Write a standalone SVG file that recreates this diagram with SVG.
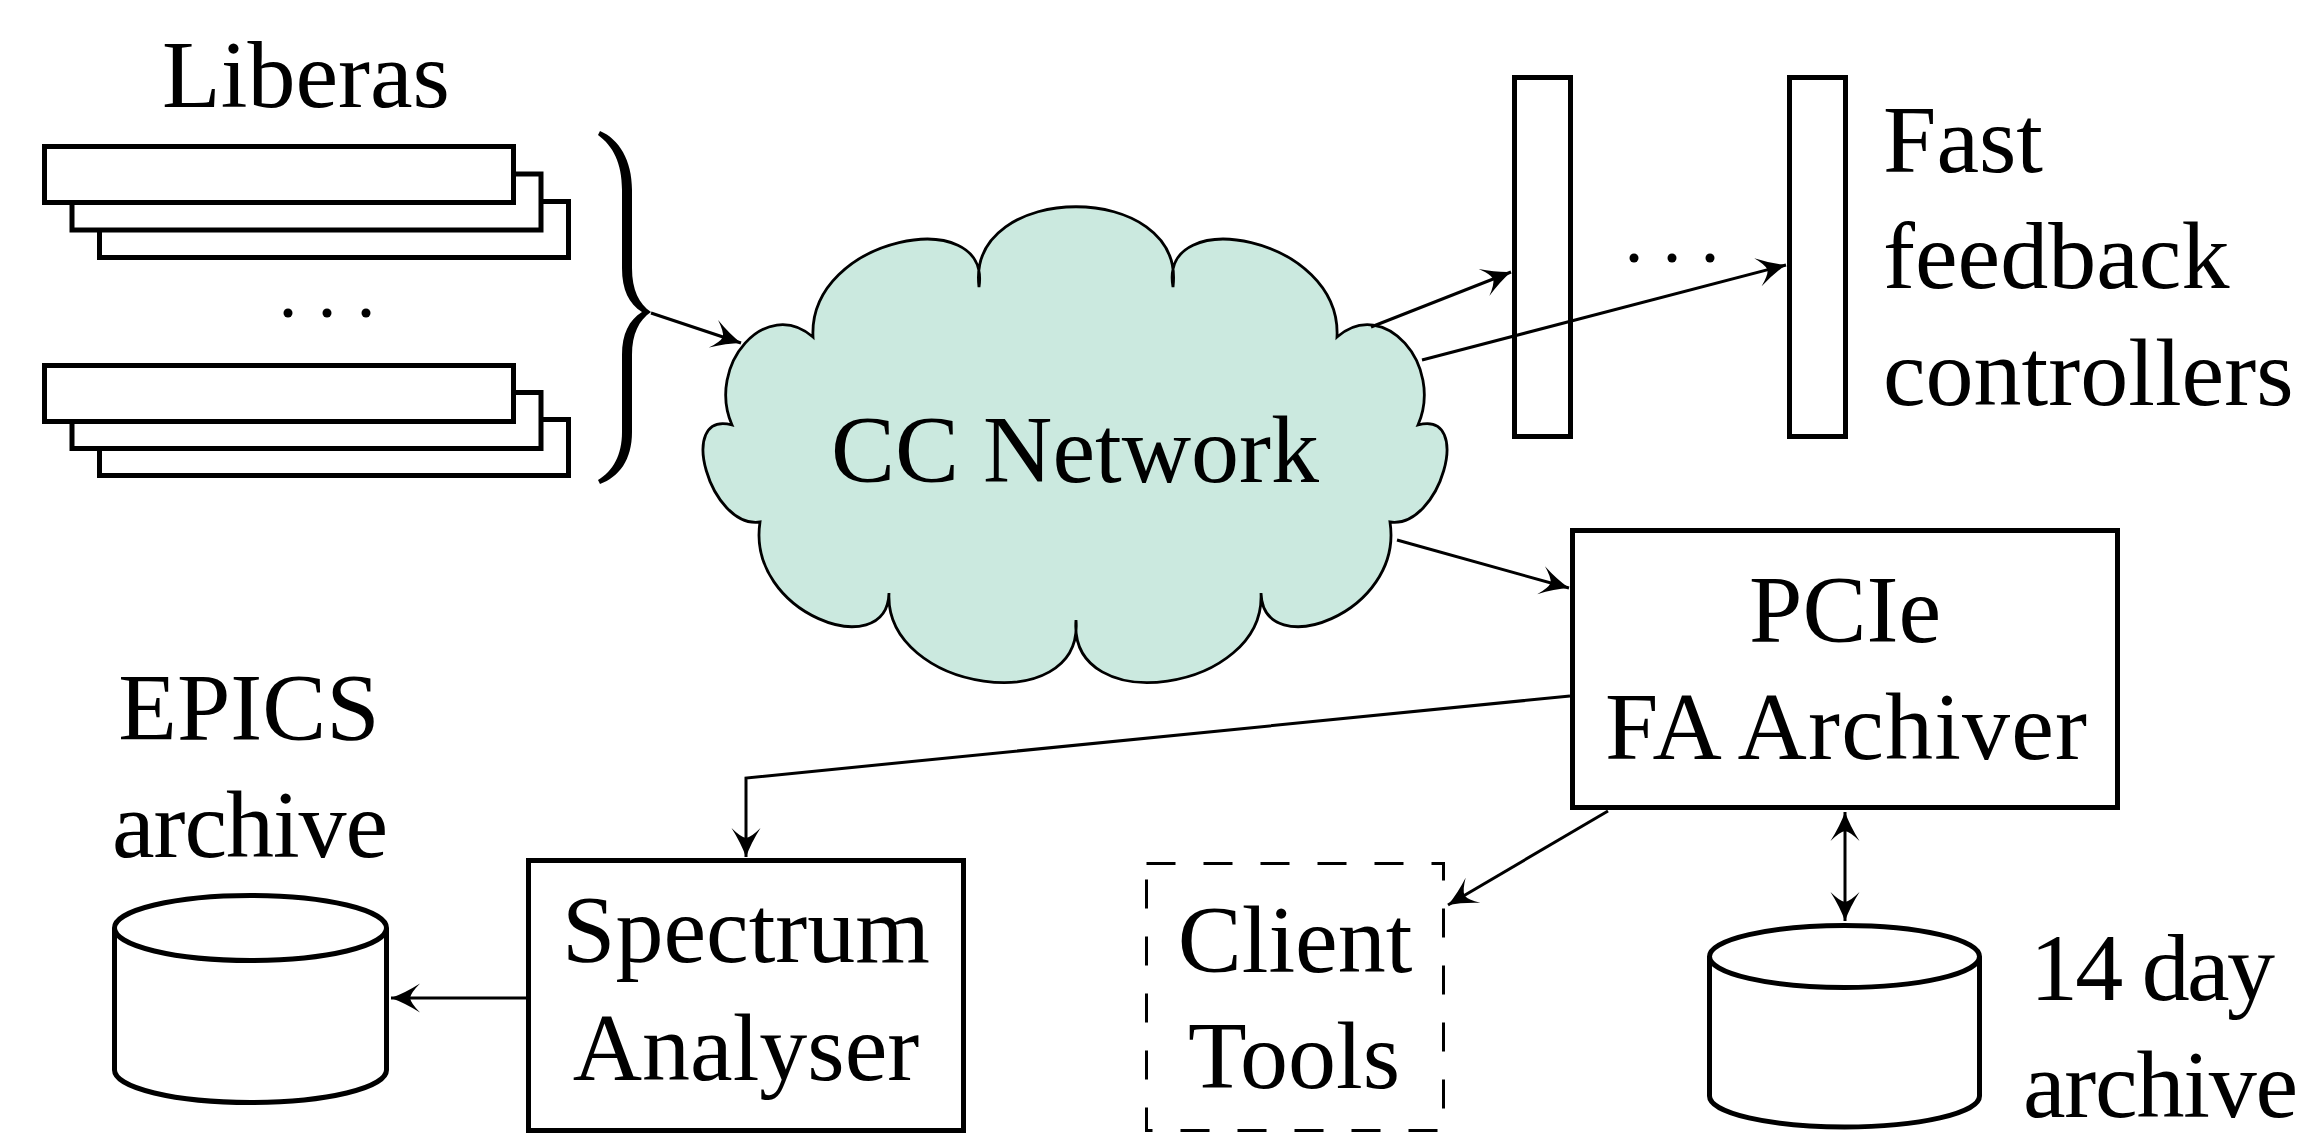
<svg xmlns="http://www.w3.org/2000/svg" width="2308" height="1134" viewBox="0 0 2308 1134">
<style>
text { font-family: "Liberation Serif", "Times New Roman", serif; font-size: 96px; fill: #000; }
.mid { text-anchor: middle; }
.box { fill: #fff; stroke: #000; stroke-width: 5; }
.dash { fill: none; stroke: #000; stroke-width: 3; stroke-dasharray: 29 28; }
.conn { fill: none; stroke: #000; stroke-width: 3; marker-end: url(#ah); }
.dot { fill: #000; }
</style>
<defs>
<marker id="ah" viewBox="-32 -17 34 34" refX="0" refY="0" markerWidth="34" markerHeight="34" markerUnits="userSpaceOnUse" orient="auto-start-reverse">
<path d="M0,0 Q-14,-5 -29,-14.5 Q-20,-5.5 -19,0 Q-20,5.5 -29,14.5 Q-14,5 0,0 Z" fill="#000"/>
</marker>
</defs>

<g id="liberas">
<text x="306" y="107" class="mid">Liberas</text>
<rect class="box" x="99.5" y="201.5" width="469" height="56"/>
<rect class="box" x="72" y="174" width="469" height="56"/>
<rect class="box" x="44.5" y="146.5" width="469" height="56"/>
<circle class="dot" cx="288" cy="313" r="4.5"/>
<circle class="dot" cx="327" cy="313" r="4.5"/>
<circle class="dot" cx="366" cy="313" r="4.5"/>
<rect class="box" x="99.5" y="419.5" width="469" height="56"/>
<rect class="box" x="72" y="392.5" width="469" height="56"/>
<rect class="box" x="44.5" y="365.5" width="469" height="56"/>
<path d="M600,131 C619,139 632,160 632,190 L632,268 C632,290 639,304 651,312 C639,320 632,334 632,355 L632,432 C632,460 619,477 600,484 L598,480 C613,471 622,455 622,432 L622,355 C622,334 629,320 642,312 C629,304 622,290 622,268 L622,190 C622,163 613,146 598,135 Z" fill="#000"/>
</g>

<g id="cc-network">
<path d="M979,287 C966,180 1186,180 1173,287 C1158,203 1342,236 1337,337 C1384,296 1444,365 1418,425 C1474,410 1440,529 1390,522 C1404,614 1263,664 1261,593 C1266,692 1068,720 1076,620 C1084,720 884,692 889,593 C887,664 746,614 760,522 C710,529 676,410 732,425 C706,365 766,296 813,337 C808,236 992,203 979,287 Z" fill="#cbe9df" stroke="#000" stroke-width="2.8"/>
<text x="1075" y="482" class="mid">CC Network</text>
</g>

<g id="fast-feedback">
<rect class="box" x="1514.5" y="77.5" width="56" height="359"/>
<rect class="box" x="1789.5" y="77.5" width="56" height="359"/>
<circle class="dot" cx="1634" cy="258" r="4.5"/>
<circle class="dot" cx="1672" cy="258" r="4.5"/>
<circle class="dot" cx="1710" cy="258" r="4.5"/>
<text x="1883" y="172">Fast</text>
<text x="1883" y="288">feedback</text>
<text x="1883" y="405">controllers</text>
</g>

<g id="pcie-archiver">
<rect class="box" x="1572.5" y="530.5" width="545" height="277"/>
<text x="1845" y="642" class="mid">PCIe</text>
<text x="1846" y="759" class="mid" textLength="482">FA Archiver</text>
</g>

<g id="epics-archive">
<text x="249" y="740" class="mid">EPICS</text>
<text x="250" y="857" class="mid" textLength="276">archive</text>
<path class="box" d="M114.5,928 L114.5,1070 A136,32.5 0 0 0 386.5,1070 L386.5,928"/>
<ellipse class="box" cx="250.5" cy="928" rx="136" ry="32.5"/>
</g>

<g id="spectrum-analyser">
<rect class="box" x="528.5" y="860.5" width="435" height="270"/>
<text x="746" y="962" class="mid">Spectrum</text>
<text x="746" y="1080" class="mid">Analyser</text>
</g>

<g id="client-tools">
<rect class="dash" x="1146.5" y="863.5" width="297" height="267"/>
<text x="1295" y="972" class="mid">Client</text>
<text x="1294" y="1088" class="mid">Tools</text>
</g>

<g id="day-archive">
<path class="box" d="M1709.5,956.5 L1709.5,1096 A135,31 0 0 0 1979.5,1096 L1979.5,956.5"/>
<ellipse class="box" cx="1844.5" cy="956.5" rx="135" ry="31"/>
<text x="2030" y="1000" textLength="245">14 day</text>
<text x="2023" y="1117" textLength="275">archive</text>
</g>

<g id="connectors">
<path class="conn" d="M651,313 L741,343"/>
<path class="conn" d="M1371,327 L1511,272"/>
<path class="conn" d="M1422,360 L1786,265"/>
<path class="conn" d="M1397,540 L1569,588"/>
<path class="conn" d="M1570,696 L746,778 L746,857"/>
<path class="conn" d="M1608,811 L1448,905"/>
<path class="conn" d="M1845,812 L1845,921" style="marker-start: url(#ah)"/>
<path class="conn" d="M526,998 L391,998"/>
</g>
</svg>
